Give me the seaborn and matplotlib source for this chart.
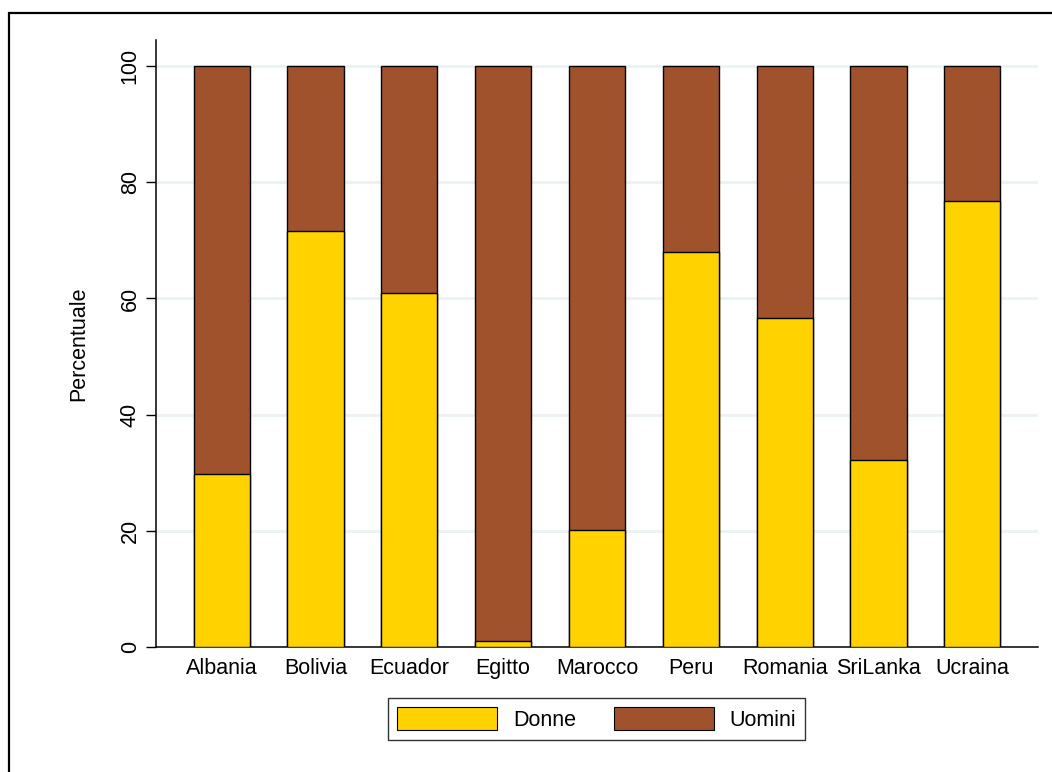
import pandas as pd
import matplotlib
matplotlib.use("Agg")
import matplotlib.pyplot as plt
import seaborn as sns
from matplotlib.patches import Rectangle, Patch

# values
paesi = ["Albania", "Bolivia", "Ecuador", "Egitto", "Marocco",
         "Peru", "Romania", "SriLanka", "Ucraina"]
donne = [29.8, 71.6, 60.9, 1.0, 20.1, 68.0, 56.6, 32.2, 76.8]
uomini = [70.2, 28.4, 39.1, 99.0, 79.9, 32.0, 43.4, 67.8, 23.2]
yticks = [0, 20, 40, 60, 80, 100]

col_donne = "#FFD200"
col_uomini = "#A0522D"

df = pd.DataFrame({"paese": paesi, "Donne": donne, "Uomini": uomini})
df["totale"] = df["Donne"] + df["Uomini"]

sns.set_style("white")
plt.rcParams["font.family"] = ["Liberation Sans", "DejaVu Sans"]
plt.rcParams["text.color"] = "black"
plt.rcParams["axes.labelcolor"] = "black"
plt.rcParams["xtick.color"] = "black"
plt.rcParams["ytick.color"] = "black"

fs = 15.5

fig = plt.figure(figsize=(10.52, 7.72), dpi=100)
ax = fig.add_axes([0.1483, 0.1619, 0.8384, 0.7863])

# stacked bars: total first (Uomini on top), then Donne over it
sns.barplot(data=df, x="paese", y="totale", color=col_uomini, width=0.6,
            edgecolor="black", linewidth=1, saturation=1, ax=ax, zorder=3)
sns.barplot(data=df, x="paese", y="Donne", color=col_donne, width=0.6,
            edgecolor="black", linewidth=1, saturation=1, ax=ax, zorder=4)

ax.set_xlim(-0.7, 8.7)
ax.set_ylim(0, 104.5)
ax.set_yticks(yticks)
ax.set_yticklabels([str(t) for t in yticks], rotation=90, va="center", fontsize=fs)
ax.tick_params(axis="y", length=7, width=1, color="black", pad=4, left=True)
ax.tick_params(axis="x", length=0, pad=8, labelsize=fs)

for t in yticks[1:]:
    ax.axhline(t, color="#EAF2F3", linewidth=2, zorder=1)

ax.set_xlabel("")
ax.set_ylabel("Percentuale", fontsize=fs, labelpad=22)

for s in ["top", "right"]:
    ax.spines[s].set_visible(False)
ax.spines["left"].set_color("black")
ax.spines["bottom"].set_color("black")
ax.spines["left"].set_linewidth(1.1)
ax.spines["bottom"].set_linewidth(1.1)

handles = [Patch(facecolor=col_donne, edgecolor="black", linewidth=0.8, label="Donne"),
           Patch(facecolor=col_uomini, edgecolor="black", linewidth=0.8, label="Uomini")]
leg = fig.legend(handles=handles, loc="center", bbox_to_anchor=(0.567, 0.0687),
                 ncol=2, fontsize=fs, frameon=True, fancybox=False,
                 handlelength=4.65, handleheight=1.3, handletextpad=0.75,
                 columnspacing=1.75, borderpad=0.4, borderaxespad=0)
leg.get_frame().set_edgecolor("black")
leg.get_frame().set_linewidth(1)

# outer frame (only left and top edges fall inside the image)
fig.patches.append(Rectangle((0.0086, -0.02), 1.05, 0.983 + 0.02,
                             transform=fig.transFigure, fill=False,
                             edgecolor="black", linewidth=1.6))

fig.savefig("out.png", dpi=100)
